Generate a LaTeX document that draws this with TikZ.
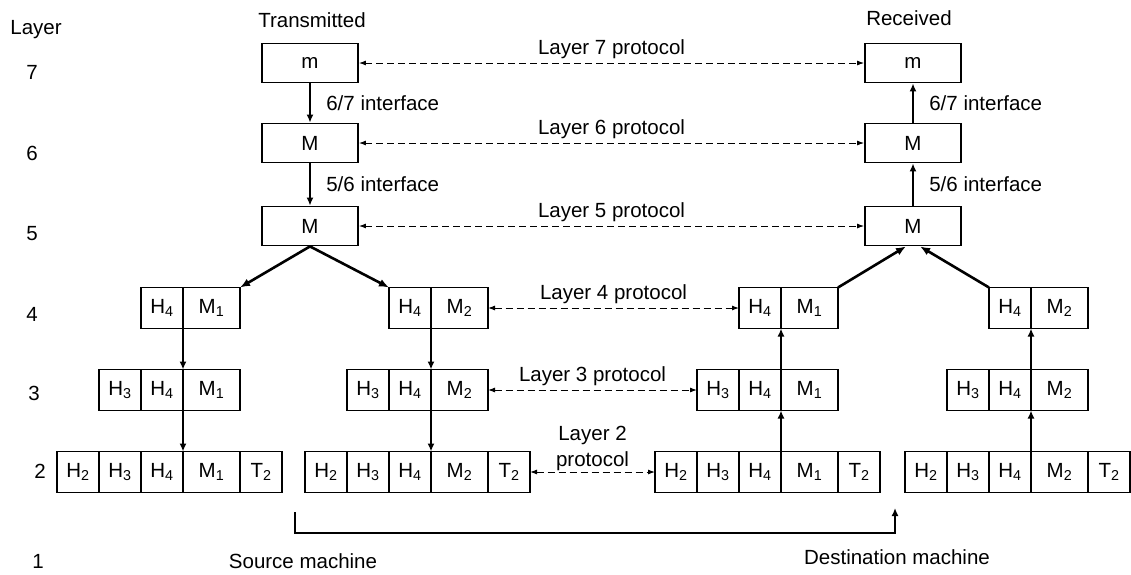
\documentclass[tikz,border=0pt]{standalone}
\usepackage{fontspec}
\setmainfont{Liberation Sans}
\usetikzlibrary{arrows.meta,positioning}

\begin{document}
\begin{tikzpicture}[x=1pt, y=-1pt, font=\fontsize{20.5}{24}\selectfont, node distance=0pt,
  cell/.style={draw, line width=1.8pt, outer sep=0pt, inner sep=0pt, minimum height=41pt},
  hd/.style={cell, minimum width=42pt},
  msg/.style={cell, minimum width=57pt},
  tr/.style={cell, minimum width=42pt},
  big/.style={draw, line width=1.8pt, minimum width=96pt, minimum height=39pt},
  arr/.style={-{Latex[length=8pt,width=7pt]}, line width=2pt},
  fan/.style={-{Latex[length=10pt,width=8pt]}, line width=2.6pt},
  proto/.style={{Latex[length=7pt,width=5pt]}-{Latex[length=7pt,width=5pt]}, dash pattern=on 7pt off 4pt, line width=1pt}]
  \useasboundingbox (0,0) rectangle (1131,574);

  % layer numbers
  \node (layhd) at (36,30) {Layer};
  \node (lay7) at (32,72) {7};
  \node (lay6) at (32,153) {6};
  \node (lay5) at (32,234) {5};
  \node (lay4) at (32,314) {4};
  \node (lay3) at (34,393) {3};
  \node (lay2) at (40,471) {2};
  \node (lay1) at (38,561) {1};
  \node (tx) at (312,20) {Transmitted};
  \node (rx) at (909,18) {Received};

  % upper layers
  \node[big] (s7) at (310,63) {m};
  \node[big] (s6) at (310,143) {M};
  \node[big] (s5) at (310,226) {M};
  \node[big] (d7) at (913,63) {m};
  \node[big] (d6) at (913,143) {M};
  \node[big] (d5) at (913,226) {M};

  % source machine, part 1
  \node[hd] (s1L4h4) at (162,308) {H\textsubscript{4}};
  \node[msg, right=of s1L4h4] (s1L4m) {M\textsubscript{1}};
  \node[hd] (s1L3h3) at (120,390) {H\textsubscript{3}};
  \node[hd, right=of s1L3h3] (s1L3h4) {H\textsubscript{4}};
  \node[msg, right=of s1L3h4] (s1L3m) {M\textsubscript{1}};
  \node[hd] (s1L2h2) at (78,472) {H\textsubscript{2}};
  \node[hd, right=of s1L2h2] (s1L2h3) {H\textsubscript{3}};
  \node[hd, right=of s1L2h3] (s1L2h4) {H\textsubscript{4}};
  \node[msg, right=of s1L2h4] (s1L2m) {M\textsubscript{1}};
  \node[tr, right=of s1L2m] (s1L2t) {T\textsubscript{2}};

  % source machine, part 2
  \node[hd] (s2L4h4) at (410,308) {H\textsubscript{4}};
  \node[msg, right=of s2L4h4] (s2L4m) {M\textsubscript{2}};
  \node[hd] (s2L3h3) at (368,390) {H\textsubscript{3}};
  \node[hd, right=of s2L3h3] (s2L3h4) {H\textsubscript{4}};
  \node[msg, right=of s2L3h4] (s2L3m) {M\textsubscript{2}};
  \node[hd] (s2L2h2) at (326,472) {H\textsubscript{2}};
  \node[hd, right=of s2L2h2] (s2L2h3) {H\textsubscript{3}};
  \node[hd, right=of s2L2h3] (s2L2h4) {H\textsubscript{4}};
  \node[msg, right=of s2L2h4] (s2L2m) {M\textsubscript{2}};
  \node[tr, right=of s2L2m] (s2L2t) {T\textsubscript{2}};

  % destination machine, part 1
  \node[hd] (d1L4h4) at (760,308) {H\textsubscript{4}};
  \node[msg, right=of d1L4h4] (d1L4m) {M\textsubscript{1}};
  \node[hd] (d1L3h3) at (718,390) {H\textsubscript{3}};
  \node[hd, right=of d1L3h3] (d1L3h4) {H\textsubscript{4}};
  \node[msg, right=of d1L3h4] (d1L3m) {M\textsubscript{1}};
  \node[hd] (d1L2h2) at (676,472) {H\textsubscript{2}};
  \node[hd, right=of d1L2h2] (d1L2h3) {H\textsubscript{3}};
  \node[hd, right=of d1L2h3] (d1L2h4) {H\textsubscript{4}};
  \node[msg, right=of d1L2h4] (d1L2m) {M\textsubscript{1}};
  \node[tr, right=of d1L2m] (d1L2t) {T\textsubscript{2}};

  % destination machine, part 2
  \node[hd] (d2L4h4) at (1010,308) {H\textsubscript{4}};
  \node[msg, right=of d2L4h4] (d2L4m) {M\textsubscript{2}};
  \node[hd] (d2L3h3) at (968,390) {H\textsubscript{3}};
  \node[hd, right=of d2L3h3] (d2L3h4) {H\textsubscript{4}};
  \node[msg, right=of d2L3h4] (d2L3m) {M\textsubscript{2}};
  \node[hd] (d2L2h2) at (926,472) {H\textsubscript{2}};
  \node[hd, right=of d2L2h2] (d2L2h3) {H\textsubscript{3}};
  \node[hd, right=of d2L2h3] (d2L2h4) {H\textsubscript{4}};
  \node[msg, right=of d2L2h4] (d2L2m) {M\textsubscript{2}};
  \node[tr, right=of d2L2m] (d2L2t) {T\textsubscript{2}};

  % interfaces
  \draw[arr] (s7) -- (s6) node[midway, right=12pt] {6/7 interface};
  \draw[arr] (s6) -- (s5) node[midway, right=12pt] {5/6 interface};
  \draw[arr] (d6) -- (d7) node[midway, right=12pt] {6/7 interface};
  \draw[arr] (d5) -- (d6) node[midway, right=12pt] {5/6 interface};
  \draw[fan] (s5.south) -- (s1L4m.north east);
  \draw[fan] (s5.south) -- (s2L4h4.north west);
  \draw[fan] (d1L4m.north east) -- ([xshift=-7pt]d5.south);
  \draw[fan] (d2L4h4.north west) -- ([xshift=7pt]d5.south);
  \draw[arr] (s1L4h4.south east) -- (s1L3h4.north east);
  \draw[arr] (s1L3h4.south east) -- (s1L2h4.north east);
  \draw[arr] (s2L4h4.south east) -- (s2L3h4.north east);
  \draw[arr] (s2L3h4.south east) -- (s2L2h4.north east);
  \draw[arr] (d1L3h4.north east) -- (d1L4h4.south east);
  \draw[arr] (d1L2h4.north east) -- (d1L3h4.south east);
  \draw[arr] (d2L3h4.north east) -- (d2L4h4.south east);
  \draw[arr] (d2L2h4.north east) -- (d2L3h4.south east);

  % peer protocols
  \draw[proto] (s7) -- (d7) node[midway, above] {Layer 7 protocol};
  \draw[proto] (s6) -- (d6) node[midway, above] {Layer 6 protocol};
  \draw[proto] (s5) -- (d5) node[midway, above] {Layer 5 protocol};
  \draw[proto] (s2L4m) -- (d1L4h4) node[midway, above] {Layer 4 protocol};
  \draw[proto] (s2L3m) -- (d1L3h3) node[midway, above] {Layer 3 protocol};
  \draw[proto] (s2L2t) -- (d1L2h2) node[midway, above, align=center, inner sep=1pt] {Layer 2\\[2pt]protocol};

  % physical medium
  \coordinate (wireA) at (295,512);
  \coordinate (wireC) at (895,533);
  \coordinate (wireB) at (895,508);
  \draw[arr] (wireA) |- (wireC) -- (wireB);
  \node (srcm) at (303,561) {Source machine};
  \node (dstm) at (897,557) {Destination machine};
\end{tikzpicture}
\end{document}
